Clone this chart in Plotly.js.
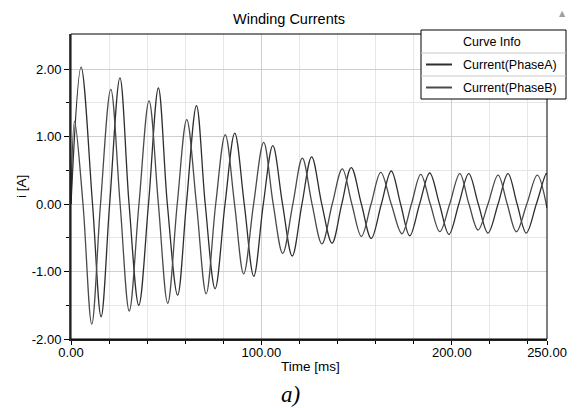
<!DOCTYPE html>
<html>
<head>
<meta charset="utf-8">
<script src="https://cdn.plot.ly/plotly-3.0.1.min.js"></script>
<style>html,body{margin:0;padding:0;background:#fff;}#chart{width:578px;height:408px;}</style>
</head>
<body>
<div id="chart"></div>
<script>
// Phase A: time [ms] and current [A] (peaks, zero crossings, troughs)
const timeA = [0, 5.3, 11.3, 15.8, 20.3, 25.7, 30.5, 35.6, 40.7, 45.9, 50.6, 56.0, 60.6, 65.9, 70.5, 75.7, 80.9, 86.0, 91.0, 96.0, 101.0, 106.0, 111.1, 116.2, 121.3, 126.4, 131.7, 137.1, 142.2, 147.2, 152.5, 157.7, 163.0, 168.2, 173.1, 177.9, 183.1, 188.4, 193.5, 198.5, 203.7, 208.9, 213.9, 219.0, 224.3, 229.5, 234.3, 239.1, 244.4, 249.6, 250];
const currentA = [0, 2.03, 0, -1.67, 0, 1.87, 0, -1.50, 0, 1.72, 0, -1.35, 0, 1.46, 0, -1.255, 0, 1.05, 0, -1.07, 0, 0.865, 0, -0.77, 0, 0.70, 0, -0.58, 0, 0.54, 0, -0.51, 0, 0.49, 0, -0.47, 0, 0.46, 0, -0.45, 0, 0.45, 0, -0.43, 0, 0.45, 0, -0.43, 0, 0.45, 0.44];

// Phase B
const timeB = [0, 1.9, 6.3, 10.9, 15.5, 20.9, 25.8, 30.6, 35.7, 41.0, 45.9, 50.8, 55.8, 60.8, 65.9, 71.0, 76.0, 81.0, 85.9, 90.7, 95.9, 101.2, 106.2, 111.2, 116.5, 121.5, 126.6, 131.8, 137.2, 142.5, 147.5, 152.5, 157.6, 162.7, 168.2, 173.8, 178.8, 183.7, 188.7, 193.7, 198.9, 204.2, 209.0, 213.8, 219.0, 224.3, 229.1, 233.9, 239.4, 244.9, 250];
const currentB = [0, 1.23, 0, -1.78, 0, 1.70, 0, -1.585, 0, 1.53, 0, -1.47, 0, 1.25, 0, -1.33, 0, 1.03, 0, -1.035, 0, 0.915, 0, -0.73, 0, 0.68, 0, -0.59, 0, 0.52, 0, -0.48, 0, 0.47, 0, -0.44, 0, 0.44, 0, -0.41, 0, 0.45, 0, -0.385, 0, 0.43, 0, -0.41, 0, 0.43, -0.06];

const seriesNames = ['Current(PhaseA)', 'Current(PhaseB)'];

// Tick labels
const xTickVals = [0, 100, 200, 250];
const xTickText = ['0.00', '100.00', '200.00', '250.00'];
const xMinorVals = [20, 40, 60, 80, 120, 140, 160, 180, 220, 240];
const yTickVals = [-2, -1, 0, 1, 2];
const yTickText = ['-2.00', '-1.00', '0.00', '1.00', '2.00'];
const yMinorVals = [-1.5, -0.5, 0.5, 1.5];

const FONT = 'Liberation Sans, Arial, sans-serif';
const colA = '#2e2e2e', colB = '#4a4a4a';

// pixel -> paper helpers (plot area: x 71..547, y 34..339)
const PL = 71, PR = 547, PT = 34, PB = 339;
const px = x => (x - PL) / (PR - PL);
const py = y => (PB - y) / (PB - PT);

const traces = [
  {x: timeA, y: currentA, name: seriesNames[0], type: 'scatter', mode: 'lines',
   line: {color: colA, width: 1.3, shape: 'spline', smoothing: 1}, showlegend: false},
  {x: timeB, y: currentB, name: seriesNames[1], type: 'scatter', mode: 'lines',
   line: {color: colB, width: 1.3, shape: 'spline', smoothing: 1}, showlegend: false}
];

const legendBox = {x0: 421, x1: 566, y0: 30, y1: 99, sep1: 53, sep2: 76};

const shapes = [
  // top/right border
  {type: 'rect', xref: 'paper', yref: 'paper', x0: 0, x1: 1, y0: 0, y1: 1, line: {color: '#000', width: 1}, fillcolor: 'rgba(0,0,0,0)', layer: 'above'},
  // legend box
  {type: 'rect', xref: 'paper', yref: 'paper', x0: px(legendBox.x0), x1: px(legendBox.x1), y0: py(legendBox.y1), y1: py(legendBox.y0), line: {color: '#000', width: 1}, fillcolor: '#fff', layer: 'above'},
  {type: 'line', xref: 'paper', yref: 'paper', x0: px(legendBox.x0), x1: px(legendBox.x1), y0: py(legendBox.sep1), y1: py(legendBox.sep1), line: {color: '#c8c8c8', width: 1}, layer: 'above'},
  {type: 'line', xref: 'paper', yref: 'paper', x0: px(legendBox.x0), x1: px(legendBox.x1), y0: py(legendBox.sep2), y1: py(legendBox.sep2), line: {color: '#c8c8c8', width: 1}, layer: 'above'},
  {type: 'line', xref: 'paper', yref: 'paper', x0: px(426), x1: px(452), y0: py(64.5), y1: py(64.5), line: {color: colA, width: 2}, layer: 'above'},
  {type: 'line', xref: 'paper', yref: 'paper', x0: px(426), x1: px(452), y0: py(87.5), y1: py(87.5), line: {color: colB, width: 2}, layer: 'above'}
];

const annotations = [
  {text: 'Curve Info', xref: 'paper', yref: 'paper', x: px(492), y: py(42), xanchor: 'center', yanchor: 'middle', showarrow: false, font: {family: FONT, size: 12.5, color: '#000'}},
  {text: seriesNames[0], xref: 'paper', yref: 'paper', x: px(461), y: py(64.5), xanchor: 'left', yanchor: 'middle', showarrow: false, font: {family: FONT, size: 12.5, color: '#000'}},
  {text: seriesNames[1], xref: 'paper', yref: 'paper', x: px(461), y: py(87.5), xanchor: 'left', yanchor: 'middle', showarrow: false, font: {family: FONT, size: 12.5, color: '#000'}},
  {text: 'Time [ms]', xref: 'paper', yref: 'paper', x: px(310), y: py(366), xanchor: 'center', yanchor: 'middle', showarrow: false, font: {family: FONT, size: 13.5, color: '#000'}},
  {text: 'i [A]', xref: 'paper', yref: 'paper', x: px(21), y: py(187), xanchor: 'center', yanchor: 'middle', textangle: -90, showarrow: false, font: {family: FONT, size: 13.5, color: '#000'}},
  {text: 'a)', xref: 'paper', yref: 'paper', x: px(290), y: py(394), xanchor: 'center', yanchor: 'middle', showarrow: false, font: {family: 'Liberation Serif, Times New Roman, serif', size: 23, color: '#000', style: 'italic'}},
  {text: '▲', xref: 'paper', yref: 'paper', x: px(562), y: py(14), xanchor: 'center', yanchor: 'middle', showarrow: false, font: {family: 'DejaVu Sans, sans-serif', size: 8, color: '#a0a0a0'}}
];

const layout = {
  width: 578, height: 408,
  paper_bgcolor: '#fff', plot_bgcolor: '#fff',
  margin: {l: PL, r: 578 - PR, t: PT, b: 408 - PB, pad: 0},
  showlegend: false,
  title: {text: 'Winding Currents', xref: 'container', yref: 'container', x: 0.5, y: 1 - 19 / 408, xanchor: 'center', yanchor: 'middle', font: {family: FONT, size: 14.5, color: '#000'}},
  xaxis: {
    range: [0, 250], tickmode: 'array', tickvals: xTickVals, ticktext: xTickText,
    ticks: 'outside', ticklen: 4, tickwidth: 1, tickcolor: '#000', ticklabelstandoff: -4,
    showgrid: true, gridcolor: '#cfcfcf', gridwidth: 1,
    minor: {tickmode: 'array', tickvals: xMinorVals, ticks: 'outside', ticklen: 3, tickcolor: '#000', showgrid: true, gridcolor: '#e6e6e6', gridwidth: 1},
    showline: true, linecolor: '#222', linewidth: 2, zeroline: false,
    tickfont: {family: FONT, size: 13, color: '#000'}, fixedrange: true
  },
  yaxis: {
    range: [-2, 2.52], tickmode: 'array', tickvals: yTickVals, ticktext: yTickText,
    ticks: 'outside', ticklen: 5, tickwidth: 1, tickcolor: '#000',
    showgrid: true, gridcolor: '#cfcfcf', gridwidth: 1,
    minor: {tickmode: 'array', tickvals: yMinorVals, ticks: 'outside', ticklen: 3, tickcolor: '#000', showgrid: true, gridcolor: '#e6e6e6', gridwidth: 1},
    showline: true, linecolor: '#444', linewidth: 2, zeroline: false,
    tickfont: {family: FONT, size: 13, color: '#000'}, fixedrange: true
  },
  shapes: shapes,
  annotations: annotations
};

Plotly.newPlot('chart', traces, layout, {displayModeBar: false, staticPlot: true});
</script>
</body>
</html>
